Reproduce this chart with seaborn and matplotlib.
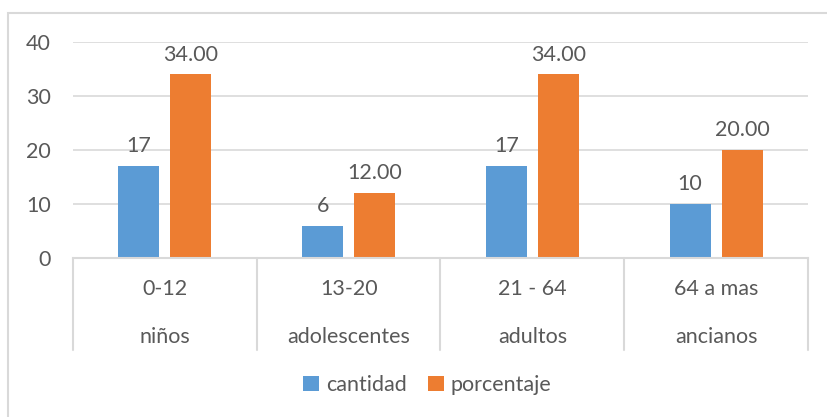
import matplotlib.pyplot as plt
import matplotlib.transforms as mtransforms
from matplotlib.patches import Rectangle
import pandas as pd
import seaborn as sns

# data
rangos = ['0-12', '13-20', '21 - 64', '64 a mas']
grupos = ['niños', 'adolescentes', 'adultos', 'ancianos']
cantidad = [17, 6, 17, 10]
porcentaje = [34.0, 12.0, 34.0, 20.0]

df = pd.DataFrame({
    'rango': rangos * 2,
    'valor': cantidad + porcentaje,
    'serie': ['cantidad'] * 4 + ['porcentaje'] * 4,
})

sns.set_theme(style='white')
plt.rcParams['font.family'] = ['Lato', 'DejaVu Sans']
txt = '#595959'
grid = '#D9D9D9'
fs = 15.5

fig = plt.figure(figsize=(8.28, 4.17), dpi=100)
ax = fig.add_axes([73 / 828, 1 - 258 / 417, 735 / 828, 216 / 417])

sns.barplot(data=df, x='rango', y='valor', hue='serie', order=rangos,
            palette=['#5B9BD5', '#ED7D31'], width=0.566, gap=0.21,
            saturation=1, linewidth=0, ax=ax, legend=True)

ax.set_ylim(0, 40)
ax.set_xlim(-0.5, 3.5)
ax.set_yticks([0, 10, 20, 30, 40])
ax.yaxis.grid(True, color=grid, lw=1.2)
ax.set_axisbelow(True)
for s in ['top', 'right', 'left']:
    ax.spines[s].set_visible(False)
ax.spines['bottom'].set_color(grid)
ax.spines['bottom'].set_linewidth(1.5)
ax.tick_params(axis='y', length=0, pad=16, labelsize=fs, labelcolor=txt)
ax.set_xticks([])
ax.set_xlabel('')
ax.set_ylabel('')

# data labels
ax.bar_label(ax.containers[0], labels=[str(v) for v in cantidad],
             padding=7, fontsize=fs, color=txt)
ax.bar_label(ax.containers[1], labels=['%.2f' % v for v in porcentaje],
             padding=7, fontsize=fs, color=txt)

# two level category axis
trans = mtransforms.blended_transform_factory(ax.transData, ax.transAxes)
for i in range(5):
    ax.plot([i - 0.5, i - 0.5], [0, -0.426], transform=trans, color=grid,
            lw=1.5, clip_on=False)
for i in range(4):
    ax.text(i, -0.1435, rangos[i], transform=trans, ha='center', va='center',
            fontsize=fs, color=txt)
    ax.text(i, -0.366, grupos[i], transform=trans, ha='center', va='center',
            fontsize=fs, color=txt)

ax.legend(loc='center', bbox_to_anchor=(0.482, -0.588), ncol=2, frameon=False,
          fontsize=fs, labelcolor=txt, handlelength=0.75, handleheight=0.75,
          handletextpad=0.3, columnspacing=1.0, title=None)

# outer chart border
fig.patches.append(Rectangle((8 / 828, -0.1), 1.2, 1 - 13 / 417 + 0.1,
                             transform=fig.transFigure, fill=False,
                             edgecolor=grid, lw=1.5))

fig.savefig('out.png', dpi=100)
